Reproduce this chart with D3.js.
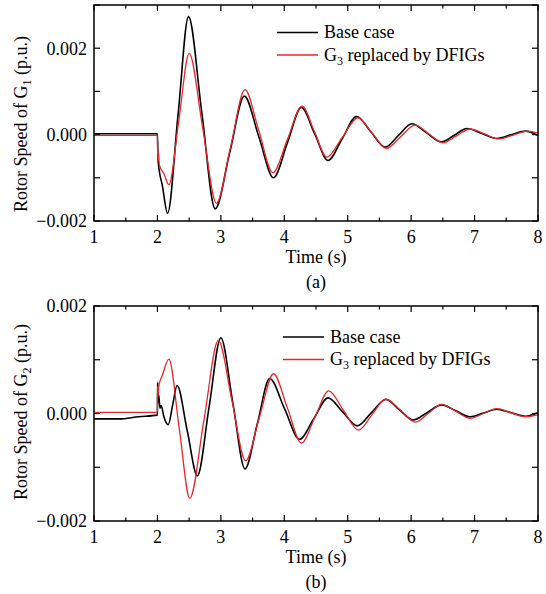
<!DOCTYPE html>
<html><head><meta charset="utf-8">
<script src="https://cdn.jsdelivr.net/npm/d3@7"></script>
<style>
body{margin:0;background:#fff}
svg{display:block}
</style>
</head><body>
<svg id="c" width="546" height="594"></svg>
<script>
// ---------- DATA ----------
const xTicks = [1,2,3,4,5,6,7,8];
const xMinorTicks = [1.5,2.5,3.5,4.5,5.5,6.5,7.5];
const seriesNames = ["Base case", "replaced by DFIGs"];

// Panel (a): rotor speed of G1
const aYTicks = [-0.002, 0.000, 0.002];
const aYMinorTicks = [-0.001, 0.001, 0.003];
const aBaseT = [1.0,2.0,2.01,2.08,2.16,2.325,2.49,2.70,2.91,3.14,3.37,3.60,3.83,4.05,4.27,4.48,4.69,4.915,5.14,5.365,5.59,5.80,6.01,6.245,6.48,6.68,6.88,7.115,7.35,7.575,7.80,8.0];
const aBaseV = [0.00002,0.00002,-0.0006,-0.0012,-0.00182,0.000455,0.00273,0.000505,-0.00172,-0.000415,0.00089,-0.000055,-0.0010,-0.000185,0.00063,0.000015,-0.0006,-0.00009,0.00042,0.000065,-0.00029,-0.00002,0.00025,0.00004,-0.00017,-0.000015,0.00014,0.000025,-0.00009,-0.000005,0.00008,-0.00002];
const aDfigT = [1.0,2.0,2.005,2.015,2.03,2.10,2.18,2.34,2.50,2.715,2.93,3.155,3.38,3.60,3.82,4.05,4.28,4.475,4.67,4.915,5.16,5.385,5.61,5.835,6.06,6.28,6.50,6.715,6.93,7.155,7.38,7.61,7.84,8.0];
const aDfigV = [-0.00002,-0.00002,-0.0006,-0.0004,-0.0007,-0.0009,-0.00116,0.00036,0.00188,0.000145,-0.00159,-0.000275,0.00104,0.00008,-0.00088,-0.00011,0.00066,0.00007,-0.00052,-0.000065,0.00039,0.000035,-0.00032,-0.00005,0.00022,0.000015,-0.00019,-0.00003,0.00013,0.000015,-0.0001,-0.00001,0.00008,0.00003];

// Panel (b): rotor speed of G2
const bYTicks = [-0.002, 0.000, 0.002];
const bYMinorTicks = [-0.001, 0.001];
const bBaseT = [1.0,1.4,1.7,2.0,2.003,2.01,2.02,2.04,2.06,2.10,2.17,2.24,2.31,2.47,2.63,2.815,3.0,3.19,3.38,3.575,3.77,4.005,4.24,4.465,4.69,4.92,5.15,5.375,5.60,5.815,6.03,6.255,6.48,6.705,6.93,7.14,7.35,7.575,7.80,8.0];
const bBaseV = [-0.0001,-0.0001,-0.00006,-0.00003,0.00058,0.0002,0.00035,0.0001,0.00015,-0.00005,-0.00021,0.000155,0.00052,-0.00032,-0.00116,0.000125,0.00141,0.00019,-0.00103,-0.00019,0.00065,0.000085,-0.00048,-0.000095,0.00029,0.00003,-0.00023,0.000015,0.00026,0.00007,-0.00012,0.00002,0.00016,0.00005,-0.00006,0.00001,0.00008,0.000015,-0.00005,0.00002];
const bDfigT = [1.0,2.0,2.003,2.01,2.02,2.08,2.18,2.345,2.51,2.735,2.96,3.175,3.39,3.61,3.83,4.05,4.27,4.485,4.70,4.935,5.17,5.385,5.60,5.835,6.07,6.275,6.48,6.705,6.93,7.14,7.35,7.575,7.80,8.0];
const bDfigV = [0.00002,0.00002,0.0005,0.00032,0.0005,0.00072,0.00101,-0.000285,-0.00158,-0.00011,0.00136,0.00024,-0.00088,-0.00006,0.00074,0.0001,-0.00055,-0.000065,0.00042,0.000055,-0.00031,-0.00002,0.00027,0.000055,-0.00016,0.000005,0.00017,0.00004,-0.00009,0.0,0.00009,0.000015,-0.00006,-0.00002];

// ---------- DRAW ----------
const svg = d3.select("#c");
const RED = "#e8262b";
const FS = 18;
const FONT = '"Liberation Serif"';
const L = 94, R = 538;

function zip(t, v){ return t.map((d,i)=>[d, v[i]]); }
function fmt(d){ return (d < 0 ? "\u2212" : "") + Math.abs(d).toFixed(3); }
function txt(sel){ return sel.append("text").style("font-family", FONT).style("font-size", FS + "px").attr("fill","#000"); }

function panel(o){
  const g = svg.append("g");
  const x = d3.scaleLinear().domain([1,8]).range([L,R]);
  const y = d3.scaleLinear().domain(o.yDomain).range([o.bottom,o.top]);
  const major = 6, minor = 3.5;

  // ticks (inward, all four sides)
  const tickG = g.append("g").attr("stroke","#000").attr("stroke-width",1.2);
  xTicks.forEach(t=>{
    tickG.append("line").attr("x1",x(t)).attr("x2",x(t)).attr("y1",o.bottom).attr("y2",o.bottom-major);
    tickG.append("line").attr("x1",x(t)).attr("x2",x(t)).attr("y1",o.top).attr("y2",o.top+major);
  });
  xMinorTicks.forEach(t=>{
    tickG.append("line").attr("x1",x(t)).attr("x2",x(t)).attr("y1",o.bottom).attr("y2",o.bottom-minor);
    tickG.append("line").attr("x1",x(t)).attr("x2",x(t)).attr("y1",o.top).attr("y2",o.top+minor);
  });
  o.yTicks.concat(o.yMinor).forEach(v=>{
    tickG.append("line").attr("x1",L).attr("x2",L+major).attr("y1",y(v)).attr("y2",y(v));
    tickG.append("line").attr("x1",R).attr("x2",R-major).attr("y1",y(v)).attr("y2",y(v));
  });

  // tick labels
  xTicks.forEach(t=>{
    txt(g).attr("x",x(t)).attr("y",o.bottom+16).attr("dy","0.35em")
      .attr("text-anchor","middle").text(t);
  });
  o.yTicks.forEach(v=>{
    txt(g).attr("x",L-7).attr("y",y(v)).attr("dy","0.35em")
      .attr("text-anchor","end").text(fmt(v));
  });

  // lines
  const line = d3.line().x(d=>x(d[0])).y(d=>y(d[1])).curve(d3.curveMonotoneX);
  g.append("path").datum(zip(o.baseT,o.baseV)).attr("d",line)
    .attr("fill","none").attr("stroke","#000").attr("stroke-width",1.6);
  g.append("path").datum(zip(o.dfigT,o.dfigV)).attr("d",line)
    .attr("fill","none").attr("stroke",RED).attr("stroke-width",1.3);

  // frame
  g.append("rect").attr("x",L).attr("y",o.top).attr("width",R-L).attr("height",o.bottom-o.top)
    .attr("fill","none").attr("stroke","#000").attr("stroke-width",1.5);

  // axis titles
  txt(g).attr("x",(L+R)/2).attr("y",o.bottom+36).attr("dy","0.35em")
    .attr("text-anchor","middle").text("Time (s)");
  txt(g).attr("x",(L+R)/2).attr("y",o.bottom+61).attr("dy","0.35em")
    .attr("text-anchor","middle").text(o.caption);

  const yl = txt(g).attr("transform",`translate(27,${o.labelY}) rotate(-90)`)
    .attr("text-anchor","middle");
  yl.append("tspan").text("Rotor Speed of G");
  yl.append("tspan").style("font-size","12px").attr("dy",4).text(o.gen);
  yl.append("tspan").attr("dy",-4).text(" (p.u.)");

  // legend
  const lg = g.append("g");
  lg.append("line").attr("x1",o.legX).attr("x2",o.legX+41).attr("y1",o.legY).attr("y2",o.legY)
    .attr("stroke","#000").attr("stroke-width",1.6);
  txt(lg).attr("x",o.legX+47).attr("y",o.legY).attr("dy","0.33em").text(seriesNames[0]);
  lg.append("line").attr("x1",o.legX).attr("x2",o.legX+41).attr("y1",o.legY+22.5).attr("y2",o.legY+22.5)
    .attr("stroke",RED).attr("stroke-width",1.3);
  const t2 = txt(lg).attr("x",o.legX+47).attr("y",o.legY+22.5).attr("dy","0.33em");
  t2.append("tspan").text("G");
  t2.append("tspan").style("font-size","12px").attr("dy",4).text("3");
  t2.append("tspan").attr("dy",-4).text(" " + seriesNames[1]);
}

panel({top:5, bottom:221, yDomain:[-0.002,0.003], yTicks:aYTicks, yMinor:aYMinorTicks,
  baseT:aBaseT, baseV:aBaseV, dfigT:aDfigT, dfigV:aDfigV, caption:"(a)", gen:"1",
  legX:277, legY:32.5, labelY:124});
panel({top:306, bottom:521, yDomain:[-0.002,0.002], yTicks:bYTicks, yMinor:bYMinorTicks,
  baseT:bBaseT, baseV:bBaseV, dfigT:bDfigT, dfigV:bDfigV, caption:"(b)", gen:"2",
  legX:283, legY:337, labelY:412});
</script>
</body></html>
